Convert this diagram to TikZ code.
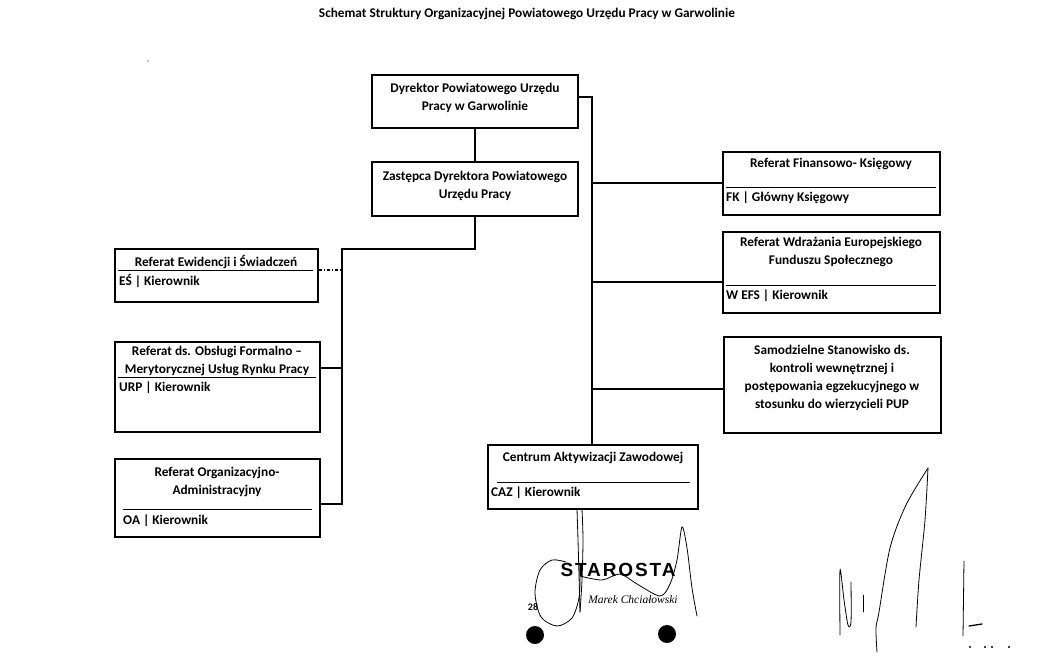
\documentclass[tikz,border=0pt]{standalone}
\usepackage{fontspec}
\setmainfont{Carlito}
\newfontfamily\stampfont[LetterSpace=10]{Liberation Sans}
\newfontfamily\signfont{Liberation Serif}
\usetikzlibrary{calc}
\tikzstyle{unit}=[draw, line width=1.1pt, inner sep=0pt]
\tikzstyle{head}=[font=\fontsize{13.3}{18}\selectfont\bfseries, align=center, inner sep=0pt]
\tikzstyle{role}=[font=\fontsize{13.3}{18}\selectfont\bfseries, anchor=west, inner sep=0pt]
\tikzstyle{line}=[draw, line width=1.1pt]
\tikzstyle{rule}=[draw, line width=0.9pt]
\tikzstyle{ink}=[draw, line width=0.8pt, line cap=round]

\begin{document}
\begin{tikzpicture}[x=1pt, y=-1pt]
  \useasboundingbox (0,0) rectangle (1037,667);
  \def\rx{592}
  \def\lx{342}

  % title
  \node[head] (title) at (527,14) {Schemat Struktury Organizacyjnej Powiatowego Urzędu Pracy w Garwolinie};

  % management
  \node[unit, minimum width=206, minimum height=53] (dyr) at (475,101.5) {};
  \node[head] (dyrT) at (475,98) {Dyrektor Powiatowego Urzędu\\Pracy w Garwolinie};
  \node[unit, minimum width=206, minimum height=54] (zast) at (475,189) {};
  \node[head] (zastT) at (475,186) {Zastępca Dyrektora Powiatowego\\Urzędu Pracy};

  % left units
  \node[unit, minimum width=203, minimum height=53] (es) at (216.5,275.5) {};
  \node[head] (esT) at (216,262) {Referat Ewidencji i Świadczeń};
  \draw[rule] (118,270) -- (313,270);
  \node[role] (esR) at (119,281) {EŚ | Kierownik};

  \node[unit, minimum width=205, minimum height=90] (urp) at (217.5,387) {};
  \node[head] (urpT) at (217,360.5) {Referat ds. Obsługi Formalno –\\Merytorycznej Usług Rynku Pracy};
  \draw[rule] (118,377) -- (316,377);
  \node[role] (urpR) at (119,388) {URP | Kierownik};

  \node[unit, minimum width=205, minimum height=78] (oa) at (217.5,498) {};
  \node[head] (oaT) at (217,481.5) {Referat Organizacyjno-\\Administracyjny};
  \draw[rule] (123,509) -- (312,509);
  \node[role] (oaR) at (123,521) {OA | Kierownik};

  % centre unit
  \node[unit, minimum width=210, minimum height=64] (caz) at (593,477) {};
  \node[head] (cazT) at (593,458) {Centrum Aktywizacji Zawodowej};
  \draw[rule] (497,482) -- (690,482);
  \node[role] (cazR) at (491,493) {CAZ | Kierownik};

  % right units
  \node[unit, minimum width=217, minimum height=63] (fk) at (831.5,183.5) {};
  \node[head] (fkT) at (831,164) {Referat Finansowo- Księgowy};
  \draw[rule] (726,187) -- (936,187);
  \node[role] (fkR) at (726,198) {FK | Główny Księgowy};

  \node[unit, minimum width=217, minimum height=81] (wefs) at (831.5,272.5) {};
  \node[head] (wefsT) at (831,252) {Referat Wdrażania Europejskiego\\Funduszu Społecznego};
  \draw[rule] (726,285) -- (936,285);
  \node[role] (wefsR) at (726,296) {W EFS | Kierownik};

  \node[unit, minimum width=217, minimum height=96] (sam) at (832.5,385) {};
  \node[head] (samT) at (832,377.5) {Samodzielne Stanowisko ds.\\kontroli wewnętrznej i\\postępowania egzekucyjnego w\\stosunku do wierzycieli PUP};

  % connectors
  \coordinate (rbus) at (\rx,97);
  \coordinate (lbus) at (\lx,249);
  \draw[line] (dyr.south) -- (zast.north);
  \draw[line] (dyr.east |- rbus) -- (rbus) -- (rbus |- caz.north);
  \foreach \b/\y in {fk/183, wefs/282, sam/389}
    \draw[line] (\rx,\y) -- (\b.west |- 0,\y);
  \draw[line] (zast.south) -- (zast.south |- lbus) -- (lbus) -- (\lx,504) -- (oa.east |- 0,504);
  \draw[line] (urp.east |- 0,368) -- (\lx,368);
  \draw[line, dashdotted] (es.east |- 0,270) -- (\lx,270);

  % stamp
  \node[font=\stampfont\bfseries\fontsize{19}{19}\selectfont, inner sep=0pt] (stamp) at (618,570) {STAROSTA};
  \node[font=\signfont\itshape\fontsize{11.5}{11.5}\selectfont, inner sep=0pt] (signer) at (633,600) {Marek Chciałowski};
  \node[font=\fontsize{10}{10}\selectfont\bfseries, inner sep=0pt] (page) at (533,607) {28};
  \fill (535,635) circle (9);
  \fill (667,634) circle (9);

  % signatures
  \draw[ink] plot[smooth] coordinates {(577,509) (578,540) (579,575) (580,612)};
  \draw[ink] plot[smooth] coordinates {(582,509) (583,540) (582,580) (580,612)};
  \draw[ink] plot[smooth] coordinates {(566,562) (552,560) (540,570) (535,593) (541,617) (557,626) (572,618) (579,598) (580,576)};
  \draw[ink] plot[smooth] coordinates {(580,576) (602,580) (620,574) (637,584) (660,596) (670,584) (677,560) (682,527) (687,548) (692,588) (697,616)};
  \draw[ink] plot[smooth] coordinates {(840,635) (840,570) (844,600) (848,625) (851,622) (851,582)};
  \draw[ink] (863,595) -- (863,612);
  \draw[ink] plot[smooth] coordinates {(877,652) (876,628) (879,612) (890,548) (906,505) (928,468)};
  \draw[ink] plot[smooth] coordinates {(928,468) (925,520) (919,580) (916,627)};
  \draw[ink] (964,561) -- (963,636);
  \draw[ink, line width=1.3pt] (969,626) -- (982,624);
  \foreach \x in {970,985,992,1009}
    \fill (\x,647) circle (1.2);
  \fill (148,61) circle (0.7);
\end{tikzpicture}
\end{document}
